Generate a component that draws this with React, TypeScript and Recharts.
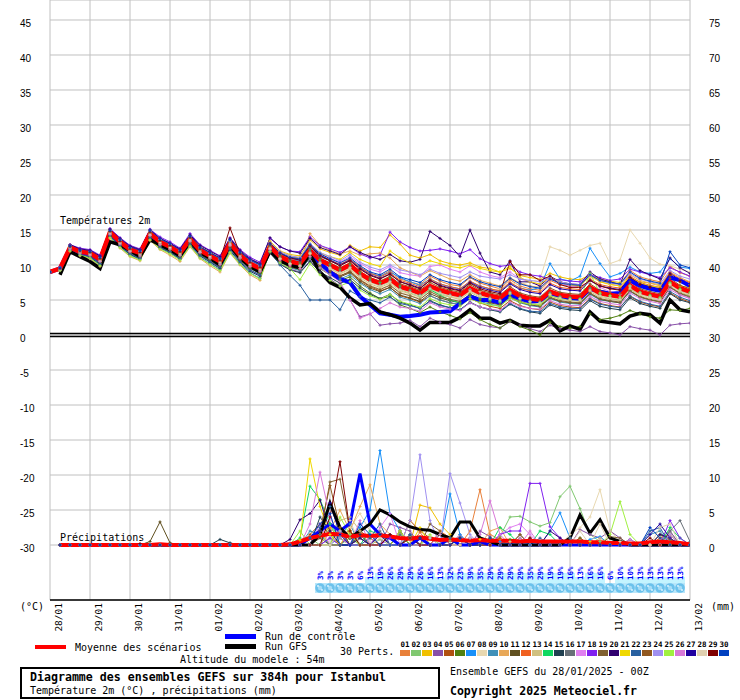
import React from 'react';
import { ComposedChart, Line, XAxis, YAxis, CartesianGrid, ReferenceLine } from 'recharts';

const HOURS = [0,6,12,18,24,30,36,42,48,54,60,66,72,78,84,90,96,102,108,114,120,126,132,138,144,150,156,162,168,174,180,186,192,198,204,210,216,222,228,234,240,246,252,258,264,270,276,282,288,294,300,306,312,318,324,330,336,342,348,354,360,366,372,378,384];
const TICK_HOURS = [0,24,48,72,96,120,144,168,192,216,240,264,288,312,336,360,384];
const DATE_LABELS = ['28/01','29/01','30/01','31/01','01/02','02/02','03/02','04/02','05/02','06/02','07/02','08/02','09/02','10/02','11/02','12/02','13/02'];
const LEFT_TICKS = [45,40,35,30,25,20,15,10,5,0,-5,-10,-15,-20,-25,-30];
const RIGHT_TICKS = [75,70,65,60,55,50,45,40,35,30,25,20,15,10,5,0];

const MEMBER_COLORS = ['#e8803a','#80c870','#f0c000','#8850a8','#b05010','#508010','#1890f8','#e8d8b0','#4090b8','#e8a858','#605020','#f06020','#d0c080','#10d860','#204050','#687078','#e080f0','#8020f0','#806030','#300070','#f0d800','#2860a0','#905820','#a090f0','#a0f040','#d878d8','#2000a0','#e0d0b0','#800000','#0040c0'];

const MEAN_T = [9.0,9.5,12.5,11.9,11.7,10.8,14.7,13.3,12.2,11.7,14.5,13.3,12.6,11.7,13.7,12.1,11.3,10.5,13.1,11.4,10.2,9.5,12.6,11.2,10.5,10.2,12.1,10.7,10.0,9.3,10.0,8.8,7.9,7.4,8.0,6.9,6.5,6.0,7.0,6.4,6.0,5.7,6.7,6.0,5.6,5.3,6.4,5.6,5.2,5.0,6.2,5.7,5.5,5.4,6.8,6.0,5.7,5.5,7.1,6.2,5.8,5.5,7.6,6.7,6.2];
const CTRL_T = [9.0,9.5,12.4,11.8,11.6,10.7,14.6,13.2,12.1,11.6,14.4,13.2,12.5,11.6,13.6,12.0,11.2,10.4,13.0,11.3,10.1,9.4,12.5,11.0,10.3,10.0,11.8,10.3,9.0,8.0,7.5,5.5,4.3,3.1,2.9,2.6,2.7,2.9,3.2,3.3,3.4,4.5,5.5,5.0,5.0,4.6,5.8,5.2,4.8,4.9,6.0,5.6,5.3,5.2,6.6,6.2,5.9,6.0,7.8,7.0,6.6,6.3,8.2,7.8,7.0];
const GFS_T = [null,8.6,11.9,11.2,10.5,9.5,13.3,12.9,12.1,11.2,13.6,12.9,12.2,11.3,13.4,11.8,11.0,10.0,12.8,11.0,9.8,9.0,12.0,10.6,10.0,9.6,11.5,9.0,7.5,6.8,5.3,4.3,4.5,3.3,2.9,2.4,1.7,0.7,1.8,1.8,1.8,2.5,3.6,2.4,2.4,1.7,2.1,1.4,1.3,1.3,2.1,0.6,1.3,0.8,3.3,2.0,1.8,1.6,2.7,3.1,2.9,1.7,5.0,3.6,3.3];

const T01 = [9.0,9.6,12.6,12.0,11.9,11.0,14.9,13.4,12.3,11.8,14.6,13.5,12.8,11.9,13.9,12.3,11.4,10.7,13.4,11.6,10.4,9.8,13.0,11.6,11.0,10.8,12.8,11.3,10.6,10.0,10.8,9.6,8.8,8.4,9.2,8.0,7.6,7.2,8.4,7.7,7.2,7.0,8.2,7.4,7.0,6.6,7.9,7.0,6.6,6.4,7.8,7.2,7.0,6.9,8.6,7.8,7.5,7.3,9.2,8.3,7.9,7.6,9.8,8.9,8.4];
const T02 = [9.0,9.4,12.3,11.7,11.4,10.5,14.4,13.0,11.9,11.3,14.2,12.9,12.2,11.3,13.3,11.7,10.9,10.0,12.6,10.9,9.6,8.9,12.4,11.0,10.2,9.9,11.8,10.4,9.6,9.0,9.6,8.4,7.6,7.0,7.6,6.5,6.0,5.6,6.6,6.0,5.5,5.3,6.3,5.6,5.1,4.8,6.0,5.2,4.8,4.6,5.8,5.3,5.0,5.0,6.4,5.6,5.2,5.0,6.6,5.8,5.4,5.1,7.2,6.3,5.8];
const T03 = [9.0,9.6,12.8,12.1,11.9,11.1,15.0,13.7,12.5,12.0,14.9,13.6,13.0,12.2,14.2,12.6,11.8,11.0,13.7,11.9,10.8,10.2,13.4,12.0,11.5,11.3,13.6,12.3,11.8,11.4,12.8,12.0,12.6,12.5,14.3,13.0,11.4,11.0,11.5,10.6,10.2,10.0,10.3,9.7,9.5,9.0,9.5,8.5,8.2,8.0,8.8,8.3,8.0,7.9,8.6,8.0,7.7,7.5,8.2,7.6,7.4,7.2,7.4,7.0,6.8];
const T04 = [9.0,9.3,12.2,11.5,11.2,10.2,14.2,12.8,11.6,11.0,13.9,12.6,11.9,11.0,13.0,11.4,10.5,9.6,12.3,10.6,9.3,8.5,11.8,10.2,9.4,9.0,10.6,9.0,8.0,7.0,5.0,2.6,3.0,1.4,1.6,1.7,2.1,1.2,2.4,1.8,1.5,1.0,2.2,1.5,1.2,1.0,1.9,1.4,0.9,0.5,1.4,0.9,0.7,0.5,1.2,0.5,0.3,0.0,1.2,0.9,0.7,0.0,1.4,1.6,1.7];
const T05 = [9.0,9.5,12.4,11.9,11.6,10.8,14.6,13.2,12.2,11.6,14.5,13.4,12.6,11.6,13.8,12.0,11.2,10.4,13.2,11.3,10.1,9.4,12.2,10.8,10.0,9.6,11.4,10.0,9.2,8.5,9.0,7.8,6.9,6.3,6.8,5.6,5.2,4.7,5.6,5.0,4.6,4.3,5.2,4.6,4.1,3.8,4.9,4.2,3.8,3.6,4.7,4.2,4.0,3.9,5.2,4.5,4.2,4.0,5.5,4.7,4.3,4.0,6.0,5.2,4.7];
const T06 = [9.0,9.4,12.4,11.6,11.3,10.3,14.4,13.0,11.8,11.2,14.0,12.8,12.0,11.1,13.2,11.5,10.6,9.8,12.4,10.7,9.5,8.8,12.0,10.5,9.7,9.3,11.0,9.5,8.6,7.8,8.3,7.0,6.0,5.2,5.5,4.3,3.8,3.2,4.0,3.3,2.8,2.3,3.2,2.2,1.5,1.0,2.0,1.2,0.7,0.0,1.8,1.2,1.0,1.2,3.0,2.2,2.4,2.8,3.5,3.0,2.6,2.4,3.6,3.5,3.8];
const T07 = [9.0,9.6,12.7,12.1,11.9,11.0,14.9,13.5,12.4,11.9,14.8,13.6,12.9,12.0,14.0,12.4,11.6,10.9,13.5,11.8,10.6,9.9,12.9,11.5,10.8,10.6,12.5,11.2,10.6,10.0,10.8,9.7,8.8,8.4,9.0,8.2,7.6,7.1,8.0,7.3,6.9,6.6,7.6,7.0,6.6,6.3,7.4,6.7,6.4,6.8,10.2,8.0,7.7,8.4,12.4,10.2,8.3,8.8,9.7,9.0,8.8,9.0,10.9,9.7,9.5];
const T08 = [9.0,9.5,12.4,11.8,11.5,10.6,14.5,13.1,12.0,11.5,14.3,13.1,12.3,11.4,13.5,11.8,11.0,10.2,12.9,11.1,9.9,9.2,12.3,10.9,10.1,9.8,11.6,10.2,9.4,8.7,9.2,8.0,7.1,6.6,7.2,6.1,5.7,5.2,6.2,5.7,5.4,5.3,6.5,6.2,6.3,6.6,7.5,7.2,7.6,8.0,12.6,12.1,11.4,12.1,12.8,13.1,10.2,10.7,15.0,13.1,11.0,10.1,9.9,9.4,9.0];
const T09 = [9.0,9.3,12.1,11.4,11.0,10.0,14.0,12.6,11.4,10.8,13.7,12.4,11.7,10.8,12.8,11.1,10.2,9.3,11.9,10.2,8.9,8.1,12.0,10.4,9.6,9.2,11.0,9.6,8.8,8.0,8.6,7.4,6.5,5.9,6.5,5.4,5.0,4.5,5.6,5.0,4.6,4.4,5.5,4.8,4.4,4.1,5.3,4.6,4.2,4.0,5.2,4.7,4.5,4.4,5.8,5.0,4.8,4.6,6.2,5.4,5.0,4.8,6.8,6.0,5.5];
const T10 = [9.0,9.2,12.0,11.3,10.9,9.8,13.8,12.4,11.2,10.6,13.5,12.2,11.4,10.5,12.6,10.9,9.9,9.0,11.7,10.0,8.6,7.8,12.0,10.8,10.2,10.0,14.5,12.8,12.1,11.6,12.0,11.4,11.6,11.7,11.0,9.6,9.0,8.4,9.2,8.6,8.0,7.7,8.6,7.8,7.4,7.0,8.2,7.4,7.0,6.8,8.0,7.5,7.2,7.0,8.4,7.6,7.3,7.0,8.6,7.8,7.4,7.0,9.0,8.2,7.6];
const T11 = [9.0,9.4,12.2,11.6,11.2,10.3,14.2,12.8,11.7,11.1,14.0,12.7,12.0,11.2,13.1,11.5,10.7,9.9,12.5,10.8,9.6,8.9,12.1,10.6,9.8,9.5,11.3,9.8,9.0,8.3,8.9,7.6,6.7,6.2,6.8,5.7,5.3,4.8,5.9,5.3,4.9,4.6,5.7,5.0,4.6,4.3,5.4,4.7,4.3,4.1,5.3,4.8,4.6,4.5,5.9,5.1,4.8,4.6,6.3,5.5,5.1,4.8,6.9,6.0,5.6];
const T12 = [9.0,9.5,12.6,11.9,11.8,10.9,14.8,13.4,12.3,11.8,14.6,13.4,12.7,11.8,13.8,12.2,11.4,10.6,13.2,11.5,10.3,9.6,12.9,11.6,10.9,10.7,12.7,11.4,10.7,10.1,10.8,9.7,8.8,8.3,8.9,7.8,7.4,6.9,8.0,7.3,6.9,6.6,7.7,7.0,6.6,6.3,7.5,6.7,6.3,6.1,7.4,6.8,6.6,6.5,8.0,7.2,6.9,6.7,8.4,7.5,7.1,6.8,8.9,8.0,7.5];
const T13 = [9.0,9.4,12.3,11.7,11.4,10.5,14.4,13.0,11.9,11.4,14.2,13.0,12.3,11.4,13.4,11.8,11.0,10.1,12.8,11.0,9.8,9.1,12.3,10.9,10.1,9.8,11.6,10.2,9.5,8.8,9.4,8.2,7.3,6.8,7.4,6.3,5.9,5.4,6.4,5.8,5.4,5.1,6.1,5.4,5.0,4.7,5.8,5.0,4.6,4.4,5.6,5.1,4.9,4.8,6.2,5.4,5.1,4.9,6.5,5.6,5.2,4.9,7.0,6.1,5.6];
const T14 = [9.0,9.5,12.6,12.0,11.8,10.9,14.8,13.5,12.4,11.9,14.7,13.5,12.7,11.8,13.9,12.3,11.5,10.7,13.3,11.6,10.4,9.7,12.7,11.3,10.6,10.3,12.2,10.8,10.1,9.4,10.1,8.9,8.0,7.5,8.1,7.0,6.4,5.6,6.5,5.7,5.0,4.6,5.8,5.2,4.9,4.7,5.9,5.1,4.8,4.7,6.0,5.5,5.3,5.2,6.7,5.9,5.6,5.4,7.0,6.1,5.7,5.4,7.5,6.6,6.1];
const T15 = [9.0,9.3,12.1,11.5,11.1,10.1,14.1,12.7,11.5,10.9,13.8,12.5,11.8,10.9,12.9,11.3,10.4,9.5,12.1,10.4,9.1,8.4,11.7,10.1,9.3,8.9,10.5,9.0,8.2,7.4,7.9,6.7,5.8,5.2,5.8,4.7,4.3,3.8,4.9,4.3,3.9,3.6,4.7,4.0,3.6,3.3,4.4,3.7,3.3,3.1,4.3,3.8,3.6,3.5,4.9,4.1,3.8,3.6,5.3,4.5,4.1,3.8,5.9,5.0,4.6];
const T16 = [9.0,9.5,12.4,11.8,11.5,10.6,14.5,13.1,12.0,11.5,14.3,13.1,12.4,11.5,13.5,11.9,11.1,10.3,12.9,11.2,10.0,9.3,12.5,11.0,10.3,10.0,11.9,10.5,9.8,9.1,9.8,8.6,7.7,7.2,7.8,6.7,6.3,5.8,6.8,6.2,5.8,5.5,6.5,5.8,5.4,5.1,6.2,5.4,5.0,4.8,6.0,5.5,5.3,5.2,6.6,5.8,5.5,5.3,6.9,6.0,5.6,5.3,7.4,6.5,6.0];
const T17 = [9.0,9.6,12.8,12.2,12.0,11.1,15.0,13.6,12.5,12.0,14.8,13.7,13.0,12.1,14.1,12.5,11.7,10.9,13.5,11.8,10.6,10.0,13.1,11.8,11.2,11.0,12.9,11.6,11.0,10.4,11.2,10.2,9.4,9.0,9.8,8.9,8.6,8.4,9.8,10.0,9.4,9.0,9.9,9.0,8.5,8.2,9.0,8.0,7.6,7.2,8.0,7.4,7.0,6.8,7.8,6.8,6.2,5.8,7.0,6.0,5.5,5.0,6.8,5.8,5.2];
const T18 = [9.0,9.7,12.9,12.4,12.2,11.4,15.2,13.9,12.8,12.3,15.1,14.0,13.3,12.4,14.5,12.9,12.1,11.3,13.9,12.2,11.1,10.4,13.8,12.6,12.0,11.9,14.0,12.8,12.3,11.8,12.6,11.6,11.0,11.4,14.7,13.3,12.5,12.0,12.1,12.3,12.0,11.6,12.2,10.9,10.2,9.8,10.0,9.0,8.6,8.4,8.0,7.9,7.7,7.6,8.6,8.2,7.8,8.0,9.4,9.0,8.6,8.2,9.6,9.0,8.4];
const T19 = [9.0,9.4,12.3,11.6,11.3,10.4,14.3,12.9,11.8,11.2,14.1,12.8,12.2,11.3,13.3,11.7,10.9,10.0,12.7,10.9,9.7,9.0,12.0,10.5,9.7,9.4,11.2,9.8,9.1,8.4,9.1,7.9,7.0,6.5,7.1,6.0,5.6,5.1,6.2,5.5,5.1,4.8,5.8,5.1,4.7,4.4,5.5,4.8,4.4,4.2,5.4,4.9,4.7,4.6,6.0,5.2,4.9,4.7,6.3,5.4,5.0,4.7,6.8,5.9,5.4];
const T20 = [9.0,9.6,12.9,12.3,12.1,11.3,15.1,13.8,12.7,12.2,15.0,13.8,13.1,12.3,14.3,12.8,12.0,11.2,13.8,12.1,10.9,10.2,13.9,12.6,12.0,11.7,13.8,12.5,12.0,11.5,12.6,11.8,11.2,10.8,11.5,10.6,10.4,10.8,14.8,13.8,12.8,11.2,15.0,11.7,9.0,8.6,10.6,7.6,7.6,7.0,8.4,7.6,7.3,7.2,9.0,8.0,7.6,7.2,10.8,9.2,8.6,8.0,11.0,9.6,8.8];
const T21 = [9.0,9.6,12.8,12.1,11.9,11.1,15.0,13.6,12.5,12.0,14.9,13.7,13.0,12.1,14.1,12.5,11.7,10.9,13.5,11.8,10.7,10.0,13.3,11.9,11.3,11.0,13.0,11.7,11.2,10.8,11.8,10.8,10.2,9.8,12.0,11.0,10.3,9.9,10.6,10.2,9.8,9.6,10.0,9.5,9.2,9.0,9.8,8.2,7.6,7.3,8.2,7.6,7.2,7.0,8.6,7.6,7.2,7.0,8.2,7.4,7.0,6.8,8.6,7.6,7.2];
const T22 = [9.0,9.3,12.2,11.5,11.2,10.2,14.2,12.8,11.6,11.0,13.9,12.6,11.9,11.0,13.0,11.4,10.5,9.7,12.3,10.5,9.3,8.6,12.0,10.0,8.5,7.1,5.0,5.0,5.0,3.6,6.3,5.5,5.0,4.6,5.4,4.5,4.2,3.8,4.8,4.2,3.9,3.6,4.6,4.0,3.7,3.4,4.5,3.8,3.4,3.3,4.5,4.0,3.8,3.8,5.1,4.4,4.1,3.9,5.6,4.8,4.4,4.1,6.2,5.4,4.9];
const T23 = [9.0,9.5,12.5,11.8,11.6,10.7,14.6,13.2,12.1,11.6,14.4,13.2,12.5,11.6,13.6,12.0,11.2,10.4,13.0,11.3,10.1,9.4,12.8,11.4,10.7,10.4,12.4,11.0,10.3,9.6,10.3,9.1,8.2,7.7,8.4,7.3,6.9,6.4,7.5,6.8,6.4,6.1,7.2,6.4,6.0,5.7,6.9,6.0,5.6,5.4,6.7,6.1,5.9,5.8,7.3,6.4,6.1,5.9,7.6,6.6,6.2,5.9,8.1,7.1,6.6];
const T24 = [9.0,9.6,12.7,12.1,11.9,11.0,14.9,13.5,12.4,11.9,14.8,13.6,12.9,12.0,14.0,12.4,11.6,10.8,13.4,11.7,10.5,9.8,13.2,11.9,11.3,11.1,13.1,11.8,11.2,10.6,11.5,10.4,9.7,9.3,10.0,9.3,9.0,8.6,9.4,8.8,8.5,8.2,9.0,8.4,8.2,8.0,8.6,8.0,7.8,7.6,8.2,7.6,7.3,7.2,8.6,7.8,7.4,7.2,8.8,8.0,7.6,7.3,9.2,8.4,8.0];
const T25 = [9.0,9.2,12.0,11.4,11.0,9.9,13.9,12.5,11.3,10.7,13.6,12.3,11.6,10.7,12.7,11.0,10.1,9.2,11.8,10.1,8.8,8.0,11.9,10.3,9.5,7.9,10.2,8.6,7.8,7.0,7.6,6.4,5.6,5.1,5.8,4.8,4.4,4.0,5.2,4.6,4.3,4.1,5.2,4.6,4.3,4.1,5.3,4.7,4.4,4.3,5.6,5.2,5.1,5.1,8.8,6.0,5.6,5.4,7.0,6.0,5.6,5.3,7.4,6.5,6.0];
const T26 = [9.0,9.4,12.3,11.7,11.4,10.5,14.4,13.0,11.9,11.3,14.2,12.9,12.3,11.4,13.4,11.8,11.0,10.1,12.8,11.0,9.8,9.1,12.2,10.7,9.9,9.5,11.2,9.6,8.6,7.6,5.0,2.4,3.0,3.8,4.6,4.0,3.8,3.4,4.6,4.0,3.7,3.5,4.6,4.0,3.7,3.5,4.7,4.1,3.8,3.7,4.9,4.4,4.2,4.2,5.5,4.8,4.5,4.3,6.0,5.2,4.8,4.5,6.5,5.7,5.2];
const T27 = [9.0,9.6,12.8,12.2,12.0,11.2,15.1,13.7,12.6,12.1,15.0,13.8,13.1,12.2,14.2,12.6,11.8,11.0,13.6,11.9,10.8,10.1,13.0,11.7,11.0,10.7,12.8,11.4,10.7,10.0,10.7,9.5,8.6,8.1,8.7,7.6,7.2,6.7,7.8,7.1,6.7,6.4,7.5,6.8,6.4,6.1,7.3,6.5,6.1,5.9,7.2,6.6,6.4,6.3,7.8,7.0,6.7,6.5,8.2,7.3,6.9,6.6,8.8,7.8,7.3];
const T28 = [9.0,9.5,12.5,11.9,11.6,10.7,14.6,13.2,12.1,11.6,14.4,13.2,12.5,11.6,13.6,12.0,11.2,10.4,13.0,11.3,10.1,9.4,12.4,10.9,10.2,9.9,11.7,10.3,9.6,8.9,9.6,8.4,7.5,7.0,7.6,6.5,6.1,5.6,6.6,6.0,5.6,5.3,6.3,5.6,5.2,4.9,6.0,5.2,4.8,4.6,5.8,5.3,5.1,5.0,6.4,5.6,5.3,5.1,6.7,5.8,5.4,5.1,7.2,6.3,5.8];
const T29 = [9.0,9.5,12.6,12.0,11.8,10.9,14.8,13.4,12.3,11.8,14.7,13.5,12.8,11.9,13.9,12.3,11.5,10.7,15.3,11.6,10.4,9.7,13.1,11.7,11.0,10.8,12.7,11.3,10.6,9.9,10.6,9.4,8.5,8.0,8.7,7.6,7.1,6.6,7.8,7.0,6.6,6.3,7.4,6.6,6.2,5.9,10.5,8.6,8.6,7.8,8.4,7.2,6.8,6.8,7.8,7.0,6.6,6.4,8.2,7.2,6.8,6.5,8.6,7.6,7.0];
const T30 = [9.0,9.6,12.7,12.1,11.9,11.1,14.9,13.6,12.5,12.0,14.9,13.7,13.0,12.1,14.1,12.5,11.7,10.9,13.6,11.8,10.7,10.0,13.0,11.7,11.1,10.9,12.9,11.6,10.9,10.3,11.0,9.9,9.0,8.6,9.4,8.3,7.9,7.5,8.6,7.9,7.5,7.2,8.3,7.6,7.2,6.9,8.1,7.3,6.9,6.7,8.0,7.4,7.2,7.1,8.6,7.8,7.5,7.3,9.0,8.1,7.7,7.4,11.9,10.0,9.6];
const MEMBER_T = [T01,T02,T03,T04,T05,T06,T07,T08,T09,T10,T11,T12,T13,T14,T15,T16,T17,T18,T19,T20,T21,T22,T23,T24,T25,T26,T27,T28,T29,T30];

// precipitation (mm per 6h): [step index, value]; steps not listed are 0
const P01 = [[27,1.5],[28,2.5],[29,1.0],[37,1.8],[42,2.0],[43,7.9],[44,1.5],[45,0.8],[48,1.0],[55,0.6]];
const P02 = [[26,1.0],[28,3.0],[30,1.0],[33,0.8],[40,0.6],[45,1.2],[46,4.0],[47,4.1],[48,3.3],[49,2.7],[50,3.2],[51,6.9],[52,8.4],[53,5.2],[54,1.5],[55,0.5],[61,1.0],[62,2.0]];
const P03 = [[27,2.0],[33,1.5],[35,2.0],[37,5.7],[38,5.3],[39,3.0],[40,1.5],[44,1.0],[54,0.5],[62,1.0]];
const P04 = [[29,2.0],[34,3.0],[35,2.5],[36,2.0],[41,1.5],[43,2.0],[44,1.2],[48,1.0],[53,2.2],[54,1.5],[55,1.0],[56,2.0],[57,1.0],[62,2.0]];
const P05 = [[26,1.5],[27,3.0],[28,1.5],[31,2.0],[32,1.0],[36,3.5],[37,2.0],[38,1.0],[45,1.0]];
const P06 = [[29,2.5],[31,1.0],[35,1.5],[37,1.0],[40,1.0],[46,0.8],[53,1.0],[61,1.5],[62,0.8]];
const P07 = [[27,1.5],[31,2.5],[32,5.0],[33,13.5],[34,4.5],[35,2.0],[38,1.0],[40,7.3],[41,1.5],[45,0.5],[50,2.0],[51,4.6],[52,1.0],[54,0.8],[55,1.2]];
const P08 = [[30,2.5],[31,4.5],[32,2.0],[38,1.0],[52,1.5],[53,2.5],[54,4.0],[55,7.9],[56,2.0],[57,0.5]];
const P09 = [[26,2.0],[27,1.5],[29,1.2],[30,3.0],[33,1.5],[36,1.0],[42,1.0],[60,1.5],[61,2.0]];
const P10 = [[28,2.0],[29,5.0],[30,2.0],[31,5.5],[32,8.6],[33,3.0],[34,1.5],[41,1.0],[44,2.0],[45,2.5]];
const P11 = [[10,0.5],[11,3.3],[12,0.3],[27,1.0],[30,1.5],[31,2.0],[36,1.0],[44,1.0],[62,1.0]];
const P12 = [[29,1.5],[30,2.0],[39,2.0],[40,1.0],[47,1.0],[61,1.0],[62,1.5]];
const P13 = [[28,2.0],[29,3.5],[30,4.0],[31,2.0],[36,1.0],[46,0.5],[55,1.0]];
const P14 = [[25,1.0],[26,8.4],[27,6.5],[28,3.0],[29,1.0],[32,2.0],[33,1.5],[39,1.5],[45,2.5],[46,1.5],[49,2.0],[50,1.5],[62,2.5],[63,1.0]];
const P15 = [[17,0.8],[18,0.3],[27,4.0],[28,2.0],[31,1.5],[36,1.5],[41,1.0],[58,0.8]];
const P16 = [[28,1.0],[33,2.0],[35,1.5],[40,1.0],[47,1.5],[52,1.0],[62,2.0],[63,3.5],[64,0.5]];
const P17 = [[27,3.0],[29,2.0],[33,2.5],[34,4.5],[41,1.0],[45,1.5],[46,2.5],[47,3.0],[48,1.5],[58,0.8]];
const P18 = [[28,1.0],[30,1.5],[34,1.0],[42,1.0],[45,1.5],[46,2.0],[47,2.0],[48,8.8],[49,8.8],[50,2.6],[51,1.0],[62,3.5],[63,1.0]];
const P19 = [[27,1.5],[28,9.0],[29,9.4],[30,2.0],[35,2.0],[38,3.0],[39,2.0],[56,1.2],[57,1.0]];
const P20 = [[24,0.8],[25,3.6],[26,4.5],[27,6.4],[28,2.0],[34,1.5],[37,1.0],[50,2.0],[51,1.0],[61,1.5],[62,1.0]];
const P21 = [[25,0.7],[26,12.3],[27,5.5],[28,1.5],[30,2.0],[37,2.5],[41,1.0],[43,0.8]];
const P22 = [[27,2.5],[28,5.5],[29,2.0],[32,1.0],[33,3.0],[36,1.5],[40,1.0],[49,1.0],[60,2.0],[61,2.5]];
const P23 = [[27,2.0],[28,8.5],[29,2.5],[31,1.0],[35,2.0],[39,1.5],[47,1.5],[53,1.0]];
const P24 = [[29,1.5],[36,3.5],[37,12.9],[38,3.5],[40,10.2],[41,6.0],[42,1.5],[47,1.0],[62,1.5]];
const P25 = [[25,2.0],[29,4.0],[30,1.5],[35,2.0],[38,1.5],[56,1.5],[57,6.2],[58,1.5]];
const P26 = [[26,3.0],[27,10.4],[28,4.0],[29,1.0],[31,3.5],[39,1.5],[43,1.5],[44,6.3],[45,1.5],[48,2.0],[62,1.0]];
const P27 = [[27,2.0],[28,6.0],[29,1.5],[31,1.0],[33,1.5],[41,1.0],[60,1.5],[61,3.0],[62,1.0]];
const P28 = [[29,2.0],[30,3.5],[33,1.0],[42,1.0],[53,2.0],[55,3.0],[61,2.5],[62,3.0]];
const P29 = [[9,0.2],[28,4.0],[29,11.9],[30,2.0],[34,1.5],[36,1.0],[41,1.0],[48,1.0],[60,1.0]];
const P30 = [[26,1.0],[27,3.0],[28,4.5],[31,3.0],[32,1.5],[37,1.0],[41,1.0],[44,1.0],[60,2.5],[61,1.0]];
const MEMBER_P = [P01,P02,P03,P04,P05,P06,P07,P08,P09,P10,P11,P12,P13,P14,P15,P16,P17,P18,P19,P20,P21,P22,P23,P24,P25,P26,P27,P28,P29,P30];
const CTRL_P = [[26,1.0],[27,2.0],[28,3.0],[29,2.0],[30,3.1],[31,10.2],[32,3.0],[33,1.5],[34,1.0],[37,1.0],[40,1.0],[43,0.5]];
const GFS_P = [[27,1.5],[28,6.0],[29,2.5],[30,1.0],[31,2.0],[32,3.0],[33,5.0],[34,4.3],[35,3.3],[36,2.6],[37,2.2],[38,2.1],[39,1.5],[40,1.0],[41,3.3],[42,3.3],[43,1.0],[44,0.5],[52,1.0],[53,4.3],[54,1.7],[55,3.6],[56,1.0],[57,0.5]];
const MEAN_P = [null,0,0,0,0,0,0,0,0,0,0,0.1,0,0,0,0,0,0,0,0,0,0,0,0,0.1,0.5,1.0,1.3,1.6,1.5,1.2,1.4,1.3,1.4,1.2,1.0,0.9,1.1,0.9,0.7,0.8,0.7,0.6,0.7,0.6,0.6,0.6,0.5,0.6,0.5,0.5,0.5,0.5,0.5,0.4,0.4,0.3,0.3,0.2,0.2,0.4,0.5,0.4,0.3,0.1];

// probability of precipitation labels, steps 27..63
const PCT_FIRST_STEP = 27;
const PCT = [3,3,3,3,6,13,19,26,29,29,26,16,13,32,23,39,35,29,29,29,29,35,29,19,19,16,13,16,16,6,10,10,13,13,13,13,13];

const lookup = (pairs: number[][], i: number) => {
  if (i === 0) return null;
  const f = pairs.find((p) => p[0] === i);
  return f ? f[1] : 0;
};

const rows = HOURS.map((h, i) => {
  const r: any = { h, mean: MEAN_T[i], ctrl: CTRL_T[i], gfs: GFS_T[i], pmean: MEAN_P[i], pctrl: lookup(CTRL_P, i), pgfs: lookup(GFS_P, i) };
  MEMBER_T.forEach((arr, k) => { r['t' + k] = arr[i]; });
  MEMBER_P.forEach((pairs, k) => { r['p' + k] = lookup(pairs, i); });
  const j = i - PCT_FIRST_STEP;
  r.pct = j >= 0 && j < PCT.length ? PCT[j] : null;
  return r;
});

const MONO = "'DejaVu Sans Mono', monospace";
const SANS = "'Liberation Sans', Arial, sans-serif";

const mkDot = (color: string) => (props: any) => {
  const { cx, cy, index } = props;
  if (cx == null || cy == null || isNaN(cy)) return <g key={'d' + index} />;
  return <path key={'d' + index} d={`M${cx - 1.5},${cy}h3M${cx},${cy - 1.5}v3`} stroke={color} strokeWidth={1} fill="none" />;
};

const bandDot = (props: any) => {
  const { cx, index, payload } = props;
  if (cx == null || payload == null || payload.pct == null) return <g key={'b' + index} />;
  const pct = payload.pct;
  const hc = pct >= 16 ? 10 : pct >= 10 ? 6 : 0;
  return (
    <g key={'b' + index}>
      {hc > 0 && <rect x={cx - 5} y={583 - hc} width={10} height={hc} fill="#c4f4ff" />}
      <rect x={cx - 5} y={583} width={10} height={10} fill="#b8e6fa" />
      <circle cx={cx} cy={588} r={4.8} fill="#6cc2ec" />
      <circle cx={cx} cy={588} r={2.2} fill="#a6dcf6" />
      <circle cx={cx - 2} cy={586} r={0.9} fill="#e8f8ff" />
      <circle cx={cx + 2} cy={590} r={0.9} fill="#e8f8ff" />
      <text transform={`translate(${cx + 2.5},580) rotate(-90)`} textAnchor="start" fontSize={7.5} fontWeight="bold" fontFamily={MONO} fill="#0000ff">{pct + '%'}</text>
    </g>
  );
};

const LeftTick = (props: any) => {
  const { y, payload } = props;
  return <text x={20} y={y + 7} fontSize={10} fontFamily={SANS} fill="#000">{payload.value}</text>;
};
const RightTick = (props: any) => {
  const { y, payload } = props;
  return <text x={709} y={y + 7} fontSize={10} fontFamily={SANS} fill="#000">{payload.value}</text>;
};
const XTick = (props: any) => {
  const { x, payload } = props;
  const idx = TICK_HOURS.indexOf(payload.value);
  return <text transform={`translate(${x + 12},603) rotate(-90)`} textAnchor="end" fontSize={9.5} fontFamily={MONO} fill="#000">{DATE_LABELS[idx]}</text>;
};

export default function App() {
  return (
    <div style={{ position: 'absolute', left: 0, top: 0, width: 740, height: 700, background: '#fff' }}>
      <ComposedChart width={740} height={700} data={rows} margin={{ top: 0, right: 0, bottom: 0, left: 0 }}>
        <CartesianGrid stroke="#c0c0c0" strokeWidth={1} yAxisId="t" />
        <XAxis dataKey="h" type="number" domain={[0, 384]} ticks={TICK_HOURS} interval={0} height={100} tickLine={false} axisLine={{ stroke: '#000', strokeWidth: 1.5 }} tick={XTick} allowDataOverflow />
        <YAxis yAxisId="t" orientation="left" width={50} domain={[-37.857, 47.857]} ticks={LEFT_TICKS} interval={0} axisLine={false} tickLine={false} tick={LeftTick} allowDataOverflow />
        <YAxis yAxisId="p" orientation="right" width={50} domain={[-7.857, 77.857]} ticks={RIGHT_TICKS} interval={0} axisLine={false} tickLine={false} tick={RightTick} allowDataOverflow />
        <ReferenceLine yAxisId="t" y={0.22} stroke="#000" strokeWidth={1.5} />
        <ReferenceLine yAxisId="t" y={-0.22} stroke="#000" strokeWidth={1.5} />
        <Line yAxisId="t" dataKey="pct" stroke="none" dot={bandDot} activeDot={false} isAnimationActive={false} legendType="none" />
        {MEMBER_COLORS.map((c, k) => (
          <Line key={'pl' + k} yAxisId="p" dataKey={'p' + k} stroke={c} strokeWidth={1} dot={mkDot(c)} activeDot={false} isAnimationActive={false} />
        ))}
        {MEMBER_COLORS.map((c, k) => (
          <Line key={'tl' + k} yAxisId="t" dataKey={'t' + k} stroke={c} strokeWidth={1} dot={mkDot(c)} activeDot={false} isAnimationActive={false} />
        ))}
        <Line yAxisId="t" dataKey="ctrl" stroke="#0000ff" strokeWidth={4} dot={false} activeDot={false} isAnimationActive={false} />
        <Line yAxisId="t" dataKey="gfs" stroke="#000" strokeWidth={3.5} dot={false} activeDot={false} isAnimationActive={false} />
        <Line yAxisId="p" dataKey="pctrl" stroke="#0000ff" strokeWidth={3} dot={false} activeDot={false} isAnimationActive={false} />
        <Line yAxisId="p" dataKey="pgfs" stroke="#000" strokeWidth={3} dot={false} activeDot={false} isAnimationActive={false} />
        <Line yAxisId="t" dataKey="mean" stroke="#ff0000" strokeWidth={4.5} dot={false} activeDot={false} isAnimationActive={false} />
        <Line yAxisId="p" dataKey="pmean" stroke="#ff0000" strokeWidth={4} dot={false} activeDot={false} isAnimationActive={false} />
      </ComposedChart>
      <svg width={740} height={700} style={{ position: 'absolute', left: 0, top: 0, pointerEvents: 'none' }}>
        <g fontFamily={MONO} fontSize={10} fill="#000">
          <text x={60} y={224}>Températures 2m</text>
          <text x={60} y={541}>Précipitations</text>
          <text x={20} y={610}>(°C)</text>
          <text x={711} y={610}>(mm)</text>
          <rect x={35} y={645} width={31} height={4} fill="#ff0000" />
          <text x={75} y={651}>Moyenne des scénarios</text>
          <rect x={225} y={634} width={31} height={5} fill="#0000ff" />
          <text x={265} y={640}>Run de contrôle</text>
          <rect x={225} y={644} width={31} height={5} fill="#000" />
          <text x={265} y={650}>Run GFS</text>
          <text x={180} y={663}>Altitude du modele : 54m</text>
          <text x={340} y={655}>30 Perts.</text>
          {MEMBER_COLORS.map((c, k) => (
            <g key={'lg' + k}>
              <text x={400 + 11 * k + 5} y={647} fontSize={7.5} fontWeight="bold" textAnchor="middle">{String(k + 1).padStart(2, '0')}</text>
              <rect x={400 + 11 * k} y={650} width={10} height={6} fill={c} />
            </g>
          ))}
          <rect x={21} y={668} width={418} height={30} fill="none" stroke="#000" strokeWidth={2} />
          <text x={30} y={681} fontSize={11.6} fontWeight="bold">Diagramme des ensembles GEFS sur 384h pour Istanbul</text>
          <text x={30} y={694}>Température 2m (°C) , précipitations (mm)</text>
          <text x={450} y={675}>Ensemble GEFS du 28/01/2025 - 00Z</text>
          <text x={450} y={695} fontSize={11.5} fontWeight="bold">Copyright 2025 Meteociel.fr</text>
        </g>
      </svg>
    </div>
  );
}
